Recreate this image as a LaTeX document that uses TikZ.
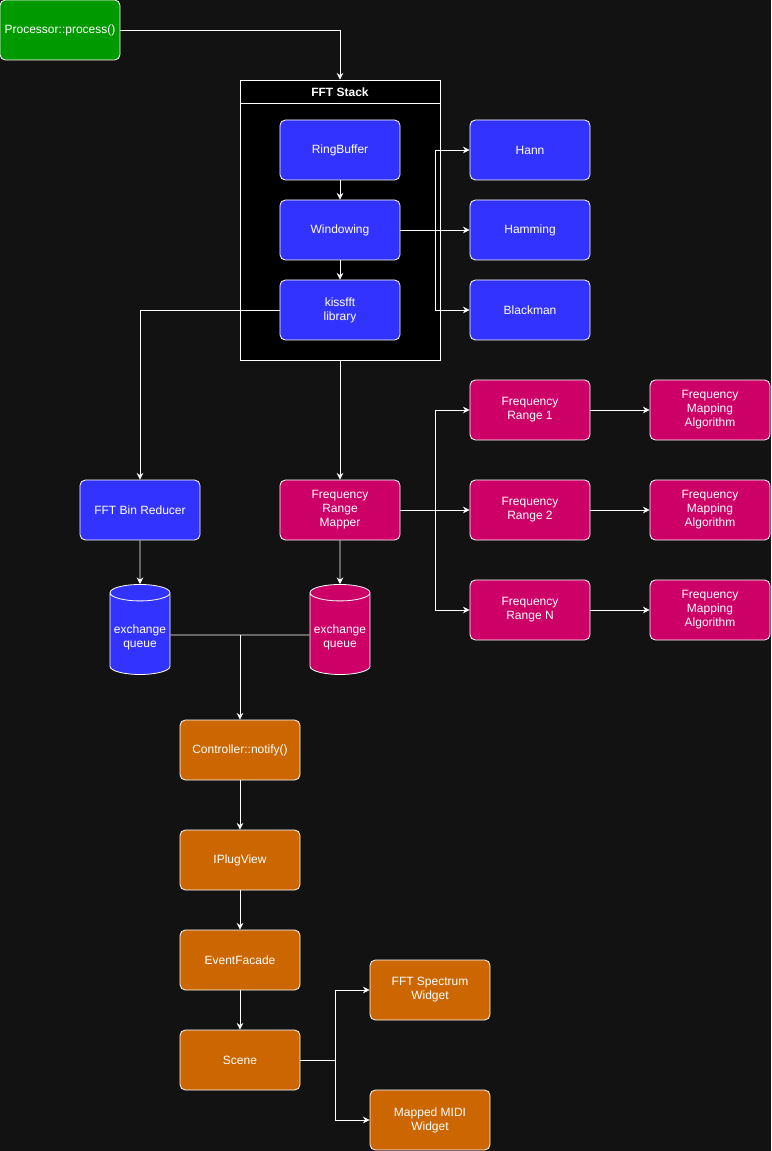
\documentclass[tikz,border=0pt]{standalone}
\usepackage{fontspec}
\setmainfont{Liberation Sans}
\usetikzlibrary{arrows.meta,shapes.geometric}
\definecolor{bg}{HTML}{121212}
\definecolor{grn}{HTML}{009900}
\definecolor{blu}{HTML}{3333FF}
\definecolor{mag}{HTML}{CC0066}
\definecolor{org}{HTML}{CC6600}
\begin{document}
\begin{tikzpicture}[x=0.75pt,y=-0.75pt,
  font=\fontsize{9}{10.5}\selectfont,
  box/.style={draw=white,rounded corners=4pt,text=white,align=center,minimum width=90pt,minimum height=45pt,inner sep=1pt,line width=0.6pt},
  bx/.style={box,fill=blu},
  mx/.style={box,fill=mag},
  ox/.style={box,fill=org},
  q/.style={cylinder,shape border rotate=90,aspect=0.3,draw=white,text=white,align=center,minimum width=45pt,minimum height=67.5pt,line width=0.6pt,inner sep=1pt},
  ar/.style={draw=white,line width=0.6pt,-{Stealth[length=5pt,width=5pt]}},
  ln/.style={draw=white,line width=0.6pt}]
\fill[bg] (0,0) rectangle (771,1151);
\useasboundingbox (0,0) rectangle (771,1151);
% container
\node[draw=white,fill=black,minimum width=150pt,minimum height=210pt,inner sep=0pt,line width=0.6pt] (stack) at (340,220) {};
\draw[white,line width=0.6pt] (240,103) -- (440,103);
\node[text=white,font=\fontsize{9}{10.5}\selectfont\bfseries] (stt) at (340,92) {FFT Stack};
\node[box,fill=grn] (proc) at (60,30) {Processor::process()};
\node[bx] (rb) at (340,150) {RingBuffer};
\node[bx] (win) at (340,230) {Windowing};
\node[bx] (kiss) at (340,310) {kissfft\\library};
\node[bx] (hann) at (530,150) {Hann};
\node[bx] (hamm) at (530,230) {Hamming};
\node[bx] (black) at (530,310) {Blackman};
\node[mx] (r1) at (530,410) {Frequency\\Range 1};
\node[mx] (r2) at (530,510) {Frequency\\Range 2};
\node[mx] (rn) at (530,610) {Frequency\\Range N};
\node[mx] (a1) at (710,410) {Frequency\\Mapping\\Algorithm};
\node[mx] (a2) at (710,510) {Frequency\\Mapping\\Algorithm};
\node[mx] (an) at (710,610) {Frequency\\Mapping\\Algorithm};
\node[bx] (bin) at (140,510) {FFT Bin Reducer};
\node[mx] (map) at (340,510) {Frequency\\Range\\Mapper};
\node[q,fill=blu] (q1) at (140,635) {\\exchange\\queue};
\node[q,fill=mag] (q2) at (340,635) {\\exchange\\queue};
\node[ox] (ctl) at (240,750) {Controller::notify()};
\node[ox] (view) at (240,860) {IPlugView};
\node[ox] (ev) at (240,960) {EventFacade};
\node[ox] (scene) at (240,1060) {Scene};
\node[ox] (spec) at (430,990) {FFT Spectrum\\Widget};
\node[ox] (midi) at (430,1120) {Mapped MIDI\\Widget};
\coordinate (j1) at (435,230);
\coordinate (j2) at (435,510);
\coordinate (j3) at (240,635);
\coordinate (j4) at (335,1060);
\draw[ar] (proc.east) -| (stack.north);
\draw[ar] (rb) -- (win);
\draw[ar] (win) -- (kiss);
\draw[ar] (win.east) -- (hamm.west);
\draw[ar] (j1) |- (hann.west);
\draw[ar] (j1) |- (black.west);
\draw[ar] (kiss.west) -| (bin.north);
\draw[ar] (stack.south) -- (map.north);
\draw[ar] (map.east) -- (r2.west);
\draw[ar] (j2) |- (r1.west);
\draw[ar] (j2) |- (rn.west);
\draw[ar] (r1) -- (a1);
\draw[ar] (r2) -- (a2);
\draw[ar] (rn) -- (an);
\draw[ar] (bin) -- (q1.north);
\draw[ar] (map) -- (q2.north);
\draw[ln] (q1.east) -- (j3);
\draw[ln] (q2.west) -- (j3);
\draw[ar] (j3) -- (ctl.north);
\draw[ar] (ctl) -- (view);
\draw[ar] (view) -- (ev);
\draw[ar] (ev) -- (scene);
\draw[ln] (scene.east) -- (j4);
\draw[ar] (j4) |- (spec.west);
\draw[ar] (j4) |- (midi.west);
\end{tikzpicture}
\end{document}
